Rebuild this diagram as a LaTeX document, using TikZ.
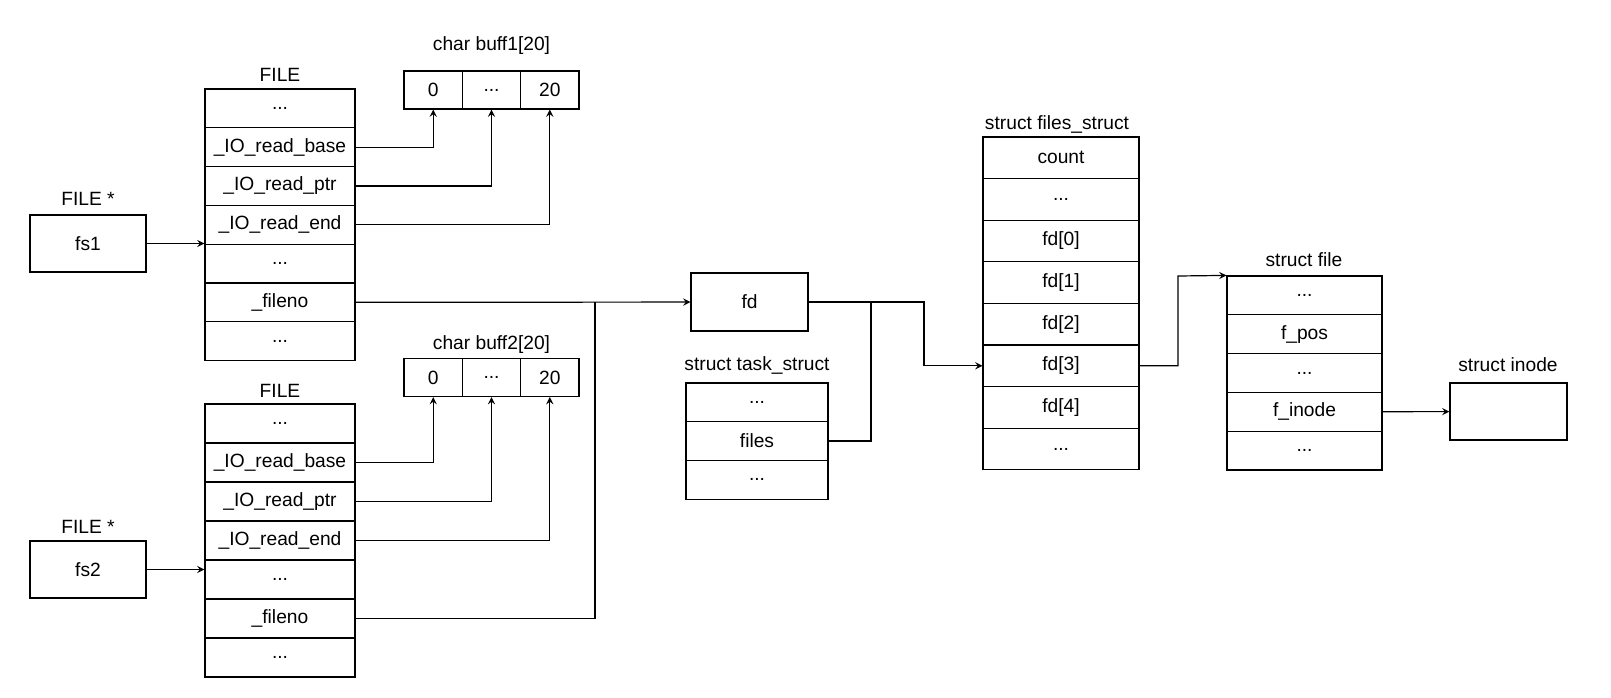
\documentclass[tikz,border=0pt]{standalone}
\usepackage{fontspec}
\setmainfont{Liberation Sans}
\usepackage{tikz}

\begin{document}
\begin{tikzpicture}[x=0.5pt, y=-0.5pt]
    \tikzstyle{field}=[
        draw = black,
        semithick,
        fill = white,
        rectangle,
        inner sep = 0pt,
        minimum width = 75pt,
        minimum height = 19.4pt,
        font = \fontsize{9.6}{11}\selectfont
    ]
    \tikzstyle{title}=[
        inner sep = 0pt,
        font = \fontsize{9.6}{11}\selectfont
    ]
    \tikzstyle{ptr}=[-stealth, semithick]

    \useasboundingbox (0,0) rectangle (1611,697);

    % pointers
    \node[title] (fs1t) at (88, 199) {FILE *};
    \node[field, minimum width=58pt, minimum height=28.5pt] (fs1) at (88, 243.5) {fs1};
    \node[title] (fs2t) at (88, 527) {FILE *};
    \node[field, minimum width=58pt, minimum height=28.5pt] (fs2) at (88, 569.5) {fs2};

    % first FILE
    \node[title] (f1t) at (280, 75) {FILE};
    \node[field] (f1a) at (280, 108.4) {...};
    \node[field] (f1base) at (280, 147.2) {\_IO\_read\_base};
    \node[field] (f1ptr) at (280, 186) {\_IO\_read\_ptr};
    \node[field] (f1end) at (280, 224.8) {\_IO\_read\_end};
    \node[field] (f1b) at (280, 263.6) {...};
    \node[field] (f1fileno) at (280, 302.4) {\_fileno};
    \node[field] (f1c) at (280, 341.2) {...};

    % second FILE
    \node[title] (f2t) at (280, 391) {FILE};
    \node[field, minimum height=19.5pt] (f2a) at (280, 423.5) {...};
    \node[field, minimum height=19.5pt] (f2base) at (280, 462.5) {\_IO\_read\_base};
    \node[field, minimum height=19.5pt] (f2ptr) at (280, 501.5) {\_IO\_read\_ptr};
    \node[field, minimum height=19.5pt] (f2end) at (280, 540.5) {\_IO\_read\_end};
    \node[field, minimum height=19.5pt] (f2b) at (280, 579.5) {...};
    \node[field, minimum height=19.5pt] (f2fileno) at (280, 618.5) {\_fileno};
    \node[field, minimum height=19.5pt] (f2c) at (280, 657.5) {...};

    % buffers
    \node[title] (b1t) at (491.5, 46) {char buff1[20]};
    \node[field, minimum width=29.15pt, minimum height=19pt] (b1a) at (433.2, 90) {0};
    \node[field, minimum width=29.15pt, minimum height=19pt] (b1b) at (491.5, 90) {...};
    \node[field, minimum width=29.15pt, minimum height=19pt] (b1c) at (549.8, 90) {20};
    \node[title] (b2t) at (491.5, 345) {char buff2[20]};
    \node[field, minimum width=29.15pt, minimum height=19pt] (b2a) at (433.2, 377.5) {0};
    \node[field, minimum width=29.15pt, minimum height=19pt] (b2b) at (491.5, 377.5) {...};
    \node[field, minimum width=29.15pt, minimum height=19pt] (b2c) at (549.8, 377.5) {20};

    % fd and task_struct
    \node[field, minimum width=58.5pt, minimum height=29pt] (fd) at (749.5, 302) {fd};
    \node[title] (tst) at (757, 365) {struct task\_struct};
    \node[field, minimum width=71pt] (tsa) at (757, 402.3) {...};
    \node[field, minimum width=71pt] (tsfiles) at (757, 441) {files};
    \node[field, minimum width=71pt] (tsb) at (757, 479.7) {...};

    % files_struct
    \node[title] (fst) at (1057, 124) {struct files\_struct};
    \node[field, minimum width=78pt, minimum height=20.8pt] (fscount) at (1061, 157.8) {count};
    \node[field, minimum width=78pt, minimum height=20.8pt] (fsa) at (1061, 199.4) {...};
    \node[field, minimum width=78pt, minimum height=20.8pt] (fd0) at (1061, 241) {fd[0]};
    \node[field, minimum width=78pt, minimum height=20.8pt] (fd1) at (1061, 282.6) {fd[1]};
    \node[field, minimum width=78pt, minimum height=20.8pt] (fd2) at (1061, 324.2) {fd[2]};
    \node[field, minimum width=78pt, minimum height=20.8pt] (fd3) at (1061, 365.8) {fd[3]};
    \node[field, minimum width=78pt, minimum height=20.8pt] (fd4) at (1061, 407.4) {fd[4]};
    \node[field, minimum width=78pt, minimum height=20.8pt] (fsb) at (1061, 449) {...};

    % struct file and inode
    \node[title] (sft) at (1304, 260) {struct file};
    \node[field, minimum width=77.5pt] (sfa) at (1304.5, 295.4) {...};
    \node[field, minimum width=77.5pt] (sfpos) at (1304.5, 334.2) {f\_pos};
    \node[field, minimum width=77.5pt] (sfb) at (1304.5, 373) {...};
    \node[field, minimum width=77.5pt] (sfinode) at (1304.5, 411.8) {f\_inode};
    \node[field, minimum width=77.5pt] (sfc) at (1304.5, 450.6) {...};
    \node[title] (int) at (1508, 365) {struct inode};
    \node[field, minimum width=58.5pt, minimum height=28.5pt] (inode) at (1508.5, 411.5) {};

    \coordinate (j1) at (595, 302.4);
    \coordinate (j2) at (871, 302);
    \coordinate (k1) at (924, 302);
    \coordinate (k2) at (1178, 276);

    \draw[ptr] (fs1) -- (f1a.west |- fs1);
    \draw[ptr] (fs2) -- (f2a.west |- fs2);
    \draw[ptr] (f1base) -| (b1a);
    \draw[ptr] (f1ptr) -| (b1b);
    \draw[ptr] (f1end) -| (b1c);
    \draw[ptr] (f2base) -| (b2a);
    \draw[ptr] (f2ptr) -| (b2b);
    \draw[ptr] (f2end) -| (b2c);
    \draw[ptr] (f1fileno) -- (fd);
    \draw[semithick] (f2fileno) -| (j1);
    \draw[ptr] (fd) -- (k1) |- (fd3);
    \draw[semithick] (tsfiles) -| (j2);
    \draw[ptr] (fd3) -| (k2) -- (sfa.north west);
    \draw[ptr] (sfinode) -- (inode);

\end{tikzpicture}
\end{document}
